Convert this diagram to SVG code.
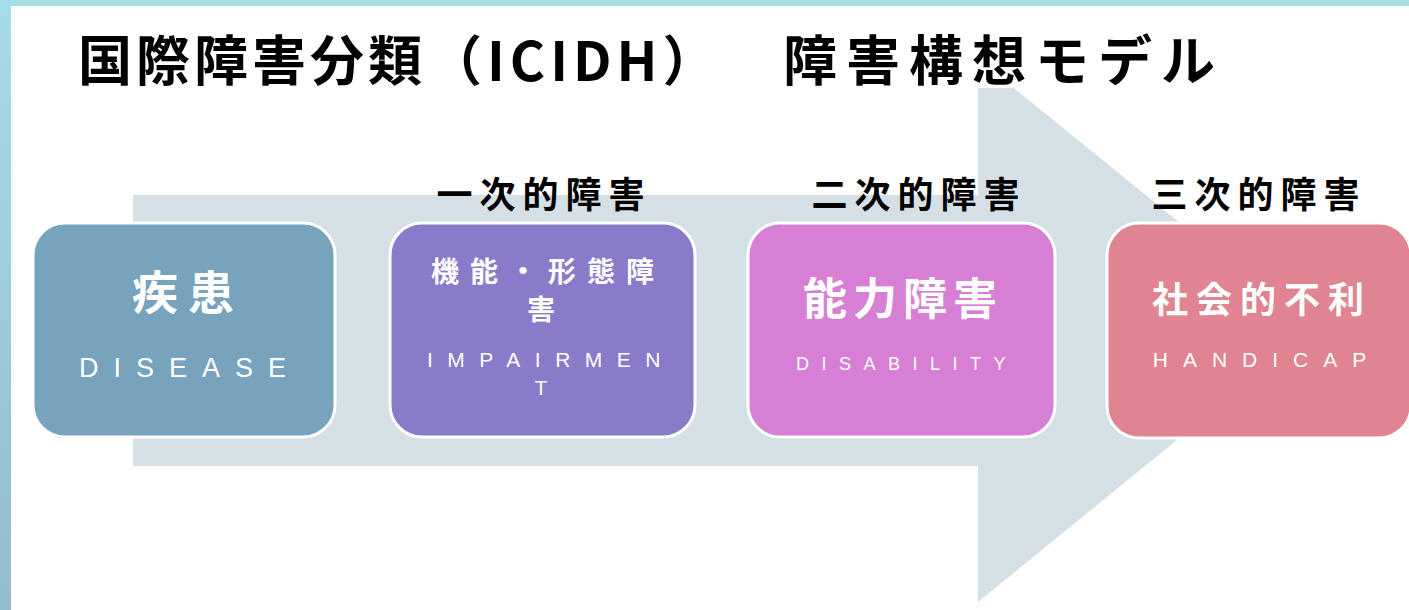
<svg xmlns="http://www.w3.org/2000/svg" width="1409" height="610" viewBox="0 0 1409 610">
<defs>
<linearGradient id="lg" x1="0" y1="0" x2="0" y2="1">
<stop offset="0" stop-color="#a6dce8"/>
<stop offset="1" stop-color="#92bccb"/>
</linearGradient>
</defs>
<style>
.jp{font-family:"Noto Sans CJK JP","Noto Sans CJK SC",sans-serif;font-weight:bold}
.ttl{font-size:54px;fill:#000}
.lbl{font-size:36px;fill:#000;letter-spacing:7px;text-anchor:middle}
.box{stroke:#fff;stroke-width:3}
.big{fill:#fff;text-anchor:middle}
.en{font-family:"Liberation Sans",Arial,sans-serif;fill:#fff;text-anchor:middle}
</style>
<rect width="1409" height="610" fill="#fff"/>
<rect x="0" y="0" width="1409" height="6" fill="#a8dde8"/>
<rect x="0" y="0" width="11" height="610" fill="url(#lg)"/>
<g id="connectors">
<path d="M133 195 H978 V59 L1312 330 L978 602 V466 H133 Z" fill="#d5dfe6"/>
</g>
<rect x="60" y="20" width="1180" height="68" fill="#fff"/>
<g id="title">
<text class="jp ttl" x="78" y="81" letter-spacing="4">国際障害分類</text>
<text class="jp ttl" x="428" y="81" letter-spacing="5">（ICIDH）</text>
<text class="jp ttl" x="783" y="81" font-size="55" letter-spacing="9">障害構想モデル</text>
</g>
<g id="labels">
<text class="jp lbl" x="544" y="208">一次的障害</text>
<text class="jp lbl" x="919" y="208">二次的障害</text>
<text class="jp lbl" x="1259" y="208">三次的障害</text>
</g>
<g id="n1">
<rect class="box" x="33" y="223" width="302" height="214" rx="32" fill="#77a3bd"/>
<text class="jp big" x="188" y="309" font-size="46" letter-spacing="10">疾患</text>
<text class="en" x="190" y="377" font-size="27" letter-spacing="15">DISEASE</text>
</g>
<g id="n2">
<rect class="box" x="390" y="223" width="305" height="214" rx="32" fill="#897aca"/>
<text class="jp big" x="548" y="282" font-size="28" letter-spacing="11">機能・形態障</text>
<text class="jp big" x="541" y="320" font-size="28">害</text>
<text class="en" x="551" y="367" font-size="21" letter-spacing="14.5">IMPAIRMEN</text>
<text class="en" x="541" y="395" font-size="21">T</text>
</g>
<g id="n3">
<rect class="box" x="748" y="223" width="307" height="214" rx="32" fill="#d67fd4"/>
<text class="jp big" x="903" y="315" font-size="44" letter-spacing="6">能力障害</text>
<text class="en" x="907" y="370" font-size="18" letter-spacing="12.5">DISABILITY</text>
</g>
<g id="n4">
<rect class="box" x="1107" y="223" width="304" height="215" rx="32" fill="#e08492"/>
<text class="jp big" x="1262" y="313" font-size="36" letter-spacing="8">社会的不利</text>
<text class="en" x="1267" y="367" font-size="21" letter-spacing="15">HANDICAP</text>
</g>
</svg>
